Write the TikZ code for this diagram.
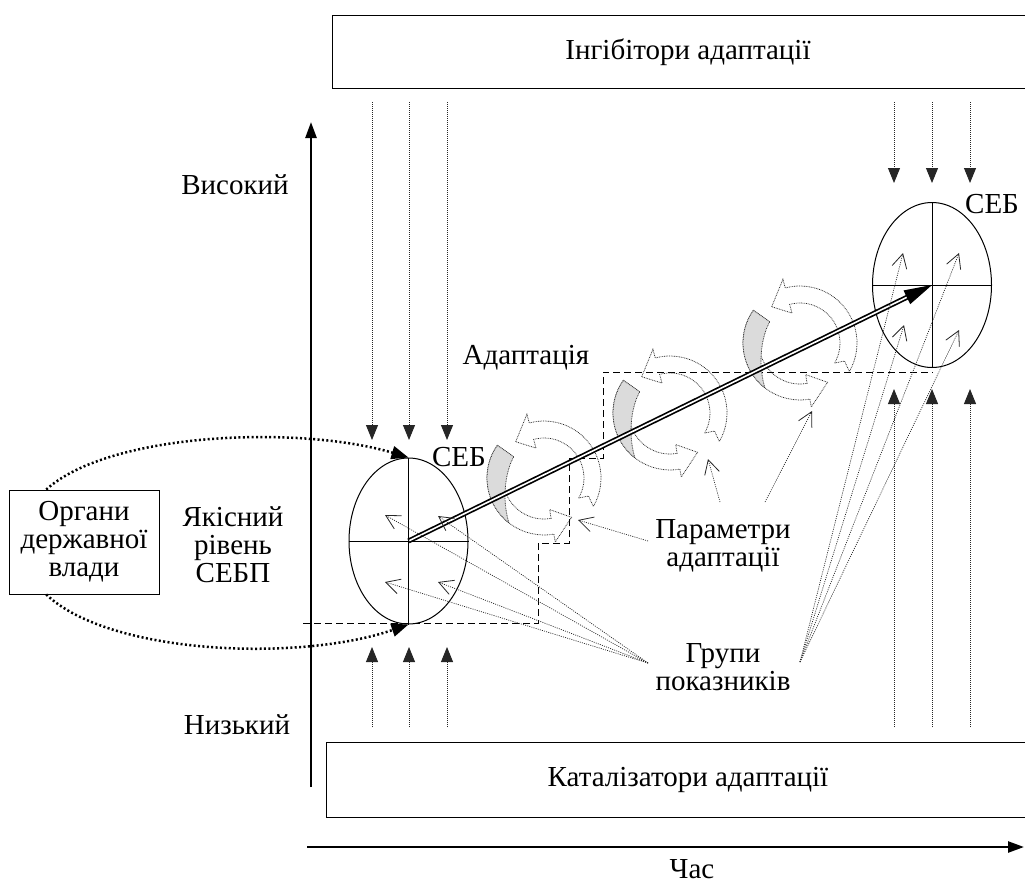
\documentclass[tikz,border=0pt]{standalone}
\usepackage{fontspec}
\setmainfont{Liberation Serif}
\usetikzlibrary{arrows.meta,calc,shapes.geometric}
\begin{document}
\begin{tikzpicture}[x=1pt,y=-1pt,
  font=\fontsize{29}{28}\selectfont,
  box/.style={draw, line width=1pt, inner sep=0pt},
  vdot/.style={line width=0.9pt, dash pattern=on 1pt off 1pt, black!85},
  fhead/.style={-{Triangle[length=15pt,width=12pt]}},
  thinarrow/.style={line width=0.7pt, dash pattern=on 1pt off 1.2pt, black!85,
    -{Straight Barb[length=14pt,width=15pt,line width=0.8pt]}},
  bigdot/.style={line width=2.5pt, dash pattern=on 2pt off 2.4pt,
    -{Triangle[length=17pt,width=13pt]}},
  dashline/.style={line width=1pt, dash pattern=on 7pt off 4pt},
  cycline/.style={line width=0.75pt, dash pattern=on 0.8pt off 0.9pt, black!85},
  axis/.style={line width=2.5pt, -{Triangle[length=16pt,width=11pt]}},
  cyc/.pic={
    % bottom arrow (outline)
    \draw[cycline] (-145:40) -- (-145:57) arc[start angle=-145, end angle=-280, radius=57]
      -- (-280:65) -- (-305:48) -- (-280:32) -- (-280:41)
      arc[start angle=-280, end angle=-145, radius=41] -- cycle;
    % gray crescent
    \fill[gray!28] (-145:37) -- (-145:57) arc[start angle=-145, end angle=-232, radius=57]
      .. controls (-205:47) and (-170:39) .. (-145:37) -- cycle;
    \draw[cycline] (-145:37) -- (-145:57) arc[start angle=-145, end angle=-232, radius=57]
      .. controls (-205:47) and (-170:39) .. (-145:37) -- cycle;
    % top arrow
    \draw[cycline] (30:40) -- (22:48) -- (30:57) arc[start angle=30, end angle=-105, radius=57]
      -- (-105:66) -- (-128:46) -- (-105:31) -- (-105:40)
      arc[start angle=-105, end angle=30, radius=40] -- cycle;
  }
]
\useasboundingbox (0,0) rectangle (1025,884);

% boxes
\node[box, minimum width=700pt, minimum height=73pt, anchor=north west] (inhbox) at (332,15) {};
\node (inh) at (688,52) {Інгібітори адаптації};
\node[box, minimum width=705pt, minimum height=75pt, anchor=north west] (catbox) at (326,742) {};
\node (cat) at (688,780) {Каталізатори адаптації};

% axes
\coordinate (ay0) at (311,787);
\coordinate (ay1) at (311,122);
\coordinate (ax0) at (307,847);
\coordinate (ax1) at (1024,847);
\draw[axis] (ay0) -- (ay1);
\draw[axis] (ax0) -- (ax1);
\node (time) at (692,869) {Час};
\node (high) at (235,185) {Високий};
\node (low) at (237,725) {Низький};

% left labels
\node[box, minimum width=150pt, minimum height=104pt, align=center] (org) at (84,542)
  {Органи\\державної\\влади};
\node[align=center] (qual) at (233,545) {Якісний\\рівень\\СЕБП};

% ellipses
\node[draw, ellipse, line width=1pt, minimum width=119pt, minimum height=166pt, inner sep=0pt] (e1) at (408.5,541) {};
\draw[line width=1pt] (e1.north) -- (e1.south);
\draw[line width=1pt] (e1.west) -- (e1.east);
\node[draw, ellipse, line width=1pt, minimum width=119pt, minimum height=165pt, inner sep=0pt] (e2) at (932,285) {};
\draw[line width=1pt] (e2.north) -- (e2.south);
\draw[line width=1pt] (e2.west) -- (e2.east);
\node (seb1) at (459,457) {СЕБ};
\node (seb2) at (992,204) {СЕБ};

% dashed stair
\draw[dashline] (303,623) -- (538,623) -- (538,543) -- (569,543) -- (569,458) -- (603,458) -- (603,372) -- (933,372);

% vertical dotted arrows
\foreach \x in {372,409,447} {
  \draw[vdot, fhead] (\x,102) -- (\x,440);
  \draw[vdot, fhead] (\x,727) -- (\x,647);
}
\foreach \x in {894,932,970} {
  \draw[vdot, fhead] (\x,102) -- (\x,183);
  \draw[vdot, fhead] (\x,727) -- (\x,389);
}

% dotted curves from the authorities
\coordinate (o1) at ($(org.north west)!0.25!(org.north east)$);
\coordinate (o2) at ($(org.south west)!0.25!(org.south east)$);
\draw[bigdot] (o1) .. controls (110,432) and (300,425) .. (e1.north);
\draw[bigdot] (o2) .. controls (110,655) and (300,662) .. (e1.south);

% adaptation cycles
\pic at (544,478) {cyc};
\pic at (670,413) {cyc};
\pic at (800,343) {cyc};

% main double arrow
\coordinate (mEnd) at ($(e2.center)!24pt!(e1.center)$);
\draw[line width=5pt] (e1.center) -- (mEnd);
\draw[white, line width=1.6pt, shorten <=1pt, shorten >=-1pt] (e1.center) -- (mEnd);
\draw[line width=1pt, -{Triangle[length=28pt,width=15pt]}] (mEnd) -- (e2.center);

\node (adapt) at (526,358) {Адаптація};

% parameters
\node[align=center] (param) at (723,546) {Параметри\\адаптації};
\coordinate (p1) at (648,541);
\coordinate (p2) at (720,502);
\coordinate (p3) at (765,502);
\coordinate (t1) at (578,520);
\coordinate (t2) at (708,459);
\coordinate (t3) at (812,411);
\draw[thinarrow] (p1) -- (t1);
\draw[thinarrow] (p2) -- (t2);
\draw[thinarrow] (p3) -- (t3);

% groups of indicators
\node[align=center] (grp) at (723,667) {Групи\\показників};
\coordinate (g1) at (648,663);
\coordinate (g2) at (800,662);
\foreach \p in {(385,515),(438,516),(385,582),(438,582)} {
  \draw[thinarrow] (g1) -- \p;
}
\foreach \p in {(903,253),(959,253),(904,325),(959,330)} {
  \draw[thinarrow] (g2) -- \p;
}
\end{tikzpicture}
\end{document}
